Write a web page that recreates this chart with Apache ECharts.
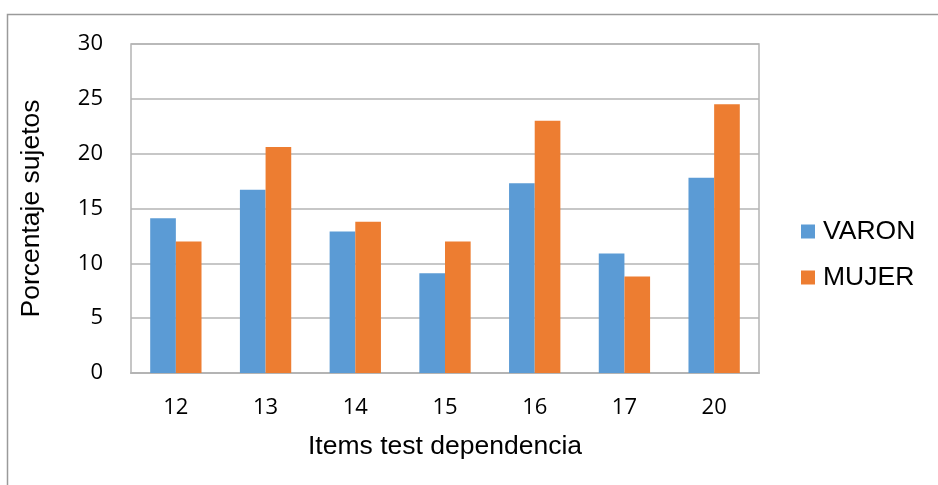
<!DOCTYPE html>
<html>
<head>
<meta charset="utf-8">
<script src="https://cdn.jsdelivr.net/npm/echarts@6/dist/echarts.min.js"></script>
<style>
  html, body { margin: 0; padding: 0; background: #fff; }
  #chart { width: 938px; height: 485px; }
</style>
</head>
<body>
<div id="chart"></div>
<script>
// datos
const items = ['12', '13', '14', '15', '16', '17', '20']
const varon = [14.1, 16.7, 12.9, 9.1, 17.3, 10.9, 17.8]
const mujer = [12.0, 20.6, 13.8, 12.0, 23.0, 8.8, 24.5]
const yTicks = { min: 0, max: 30, interval: 5 }

const chart = echarts.init(document.getElementById('chart'))

const tickFont = 'Open Sans, Noto Sans, sans-serif'
const textFont = 'Liberation Sans, Arial, sans-serif'

chart.setOption({
  animation: false,
  // marco exterior (solo borde superior e izquierdo visibles)
  graphic: [{
    type: 'polyline',
    shape: { points: [[7.5, 485], [7.5, 14.5], [938, 14.5]] },
    style: { stroke: '#9a9a9a', lineWidth: 1.5, fill: null }
  }],
  grid: {
    left: 131,
    right: 179,
    top: 44,
    bottom: 112,
    show: true,
    borderColor: '#b4b4b4',
    borderWidth: 1.5
  },
  legend: {
    orient: 'vertical',
    left: 801,
    top: 218,
    padding: 0,
    itemWidth: 14,
    itemHeight: 14,
    itemGap: 19,
    icon: 'rect',
    textStyle: { fontFamily: textFont, fontSize: 26.5, color: '#000', padding: [0, 0, 0, 3] },
    data: ['VARON', 'MUJER']
  },
  xAxis: {
    type: 'category',
    data: items,
    name: 'Items test dependencia',
    nameLocation: 'middle',
    nameGap: 60,
    nameTextStyle: { fontFamily: textFont, fontSize: 26.5, color: '#000' },
    axisLine: { lineStyle: { color: '#b4b4b4', width: 2 } },
    axisTick: { show: false },
    axisLabel: { fontFamily: tickFont, fontSize: 22, color: '#000', margin: 24 }
  },
  yAxis: {
    type: 'value',
    min: yTicks.min,
    max: yTicks.max,
    interval: yTicks.interval,
    name: 'Porcentaje sujetos',
    nameLocation: 'middle',
    nameGap: 86,
    nameTextStyle: { fontFamily: textFont, fontSize: 26.5, color: '#000' },
    axisLine: { show: false },
    axisTick: { show: false },
    axisLabel: { fontFamily: tickFont, fontSize: 22, color: '#000', margin: 28 },
    splitLine: { lineStyle: { color: '#b4b4b4', width: 1.5 } }
  },
  series: [
    {
      name: 'VARON',
      type: 'bar',
      data: varon,
      barWidth: '28.6%',
      barGap: '0%',
      itemStyle: { color: '#5B9BD5' }
    },
    {
      name: 'MUJER',
      type: 'bar',
      data: mujer,
      barWidth: '28.6%',
      barGap: '0%',
      itemStyle: { color: '#ED7D31' }
    }
  ]
})
</script>
</body>
</html>
